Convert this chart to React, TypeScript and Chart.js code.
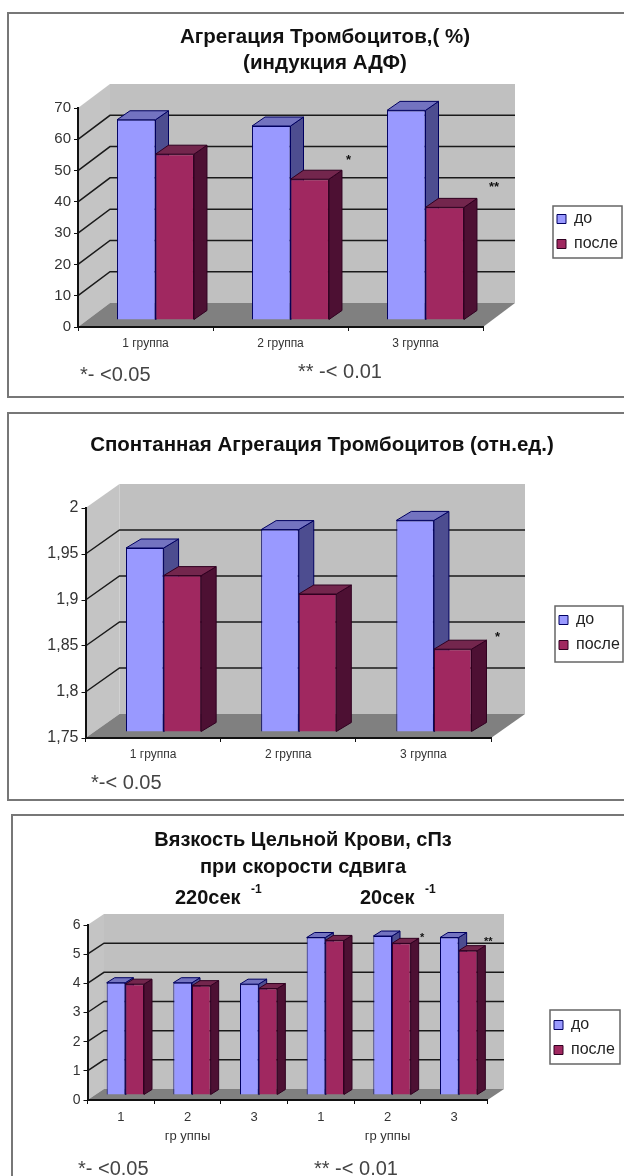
import React, { useEffect, useRef } from "react";
import { Chart, registerables } from "chart.js";

Chart.register(...registerables);

const SERIES_LABELS = ["до", "после"];

const groupsA = ["1 группа", "2 группа", "3 группа"];
const beforeA = [64, 62, 67];
const afterA = [53, 45, 36];

const groupsB = ["1 группа", "2 группа", "3 группа"];
const beforeB = [1.95, 1.97, 1.98];
const afterB = [1.92, 1.9, 1.84];

const groupsC: (string | string[])[] = ["1", ["2", "гр уппы"], "3", "1", ["2", "гр уппы"], "3"];
const beforeC = [3.85, 3.85, 3.8, 5.4, 5.45, 5.4];
const afterC = [3.8, 3.75, 3.65, 5.3, 5.2, 4.95];

const titleA = ["Агрегация Тромбоцитов,( %)", "(индукция АДФ)"];
const titleB = ["Спонтанная Агрегация Тромбоцитов (отн.ед.)"];
const titleC = ["Вязкость Цельной Крови, сПз", "при скорости сдвига"];

const FONT = "'Liberation Sans', Arial, sans-serif";
const NAVY = "#000060";

type Note = { text: string; x: number; y: number; font: string; color?: string };

const panels = [
  {
    top: 0, height: 405, frame: { l: 8, t: 13, r: 630, b: 397 },
    labels: groupsA, before: beforeA, after: afterA, min: 0, max: 70, step: 10,
    area: { l: 78, r: 483, t: 108, b: 327 }, wall: { dx: 32, dy: -24 }, plane: { dx: 10, dy: -7 }, depth: { dx: 13, dy: -9 },
    cat: 0.57, tickSize: 15, xSize: 12, xH: 30,
    title: titleA, titleSize: 20.5, titleLine: 26, titleCx: 325, titleY: 37,
    legend: { x: 553, y: 206, w: 69, h: 52, firstY: 220 },
    notes: [
      { text: "*", x: 346, y: 160, font: "bold 13px " + FONT },
      { text: "**", x: 489, y: 187, font: "bold 13px " + FONT },
      { text: "*- <0.05", x: 80, y: 375, font: "20px " + FONT, color: "#444" },
      { text: "** -< 0.01", x: 298, y: 372, font: "20px " + FONT, color: "#444" },
    ] as Note[],
  },
  {
    top: 405, height: 403, frame: { l: 8, t: 413, r: 630, b: 800 },
    labels: groupsB, before: beforeB, after: afterB, min: 1.75, max: 2, step: 0.05,
    area: { l: 85.5, r: 491, t: 508, b: 738 }, wall: { dx: 34, dy: -24 }, plane: { dx: 10.5, dy: -6 }, depth: { dx: 15, dy: -9 },
    cat: 0.556, tickSize: 16, xSize: 12, xH: 30,
    title: titleB, titleSize: 20.5, titleLine: 26, titleCx: 322, titleY: 445,
    legend: { x: 555, y: 606, w: 68, h: 56, firstY: 621 },
    notes: [
      { text: "*", x: 495, y: 637, font: "bold 13px " + FONT },
      { text: "*-< 0.05", x: 91, y: 783, font: "20px " + FONT, color: "#444" },
    ] as Note[],
  },
  {
    top: 808, height: 368, frame: { l: 12, t: 815, r: 630, b: 1190 },
    labels: groupsC, before: beforeC, after: afterC, min: 0, max: 6, step: 1,
    area: { l: 87.5, r: 487.5, t: 925, b: 1100 }, wall: { dx: 16.5, dy: -11 }, plane: { dx: 4.5, dy: -5 }, depth: { dx: 8, dy: -5 },
    cat: 0.56, tickSize: 14, xSize: 13, xH: 44,
    title: titleC, titleSize: 20, titleLine: 27, titleCx: 303, titleY: 840,
    legend: { x: 550, y: 1010, w: 70, h: 54, firstY: 1026 },
    notes: [
      { text: "220сек", x: 175, y: 898, font: "bold 20px " + FONT },
      { text: "-1", x: 251, y: 890, font: "bold 12px " + FONT },
      { text: "20сек", x: 360, y: 898, font: "bold 20px " + FONT },
      { text: "-1", x: 425, y: 890, font: "bold 12px " + FONT },
      { text: "*", x: 420, y: 938, font: "bold 11px " + FONT },
      { text: "**", x: 484, y: 942, font: "bold 11px " + FONT },
      { text: "*- <0.05", x: 78, y: 1169, font: "20px " + FONT, color: "#444" },
      { text: "** -< 0.01", x: 314, y: 1169, font: "20px " + FONT, color: "#444" },
    ] as Note[],
  },
];

type Panel = (typeof panels)[number];

function face(ctx: CanvasRenderingContext2D, pts: number[][], fill: string, stroke?: string) {
  ctx.beginPath();
  pts.forEach((p, i) => (i ? ctx.lineTo(p[0], p[1]) : ctx.moveTo(p[0], p[1])));
  ctx.closePath();
  ctx.fillStyle = fill;
  ctx.fill();
  if (stroke) {
    ctx.strokeStyle = stroke;
    ctx.lineWidth = 1;
    ctx.stroke();
  }
}

const FACE_COLORS = [
  { top: "#7373c0", side: "#4d4d90", edge: NAVY },
  { top: "#73264d", side: "#4d1033", edge: "#300020" },
];

function panelPlugin(p: Panel) {
  const off = p.top;
  return {
    id: "panel3d",
    afterLayout(chart: any) {
      const t = chart.titleBlock;
      const h = t.height;
      t.left = p.titleCx - 300;
      t.right = p.titleCx + 300;
      t.top = p.titleY - off - p.titleLine / 2;
      t.bottom = t.top + h;
      const lg = chart.legend;
      const pad = lg.options.labels.padding;
      lg.left = p.legend.x - 5;
      lg.right = 624;
      lg.top = p.legend.firstY - off - pad - 9;
      lg.bottom = lg.top + 80;
    },
    beforeDraw(chart: any) {
      const { ctx, chartArea: a, scales } = chart;
      const { dx, dy } = p.wall;
      ctx.save();
      ctx.fillStyle = "#fff";
      ctx.fillRect(0, 0, chart.width, chart.height);
      // chart frame
      ctx.strokeStyle = "#777";
      ctx.lineWidth = 2;
      ctx.strokeRect(p.frame.l, p.frame.t - off, p.frame.r - p.frame.l, p.frame.b - p.frame.t);
      // walls
      face(ctx, [[a.left + dx, a.top + dy], [a.right + dx, a.top + dy], [a.right + dx, a.bottom + dy], [a.left + dx, a.bottom + dy]], "#c0c0c0");
      face(ctx, [[a.left, a.top], [a.left + dx, a.top + dy], [a.left + dx, a.bottom + dy], [a.left, a.bottom]], "#c4c4c4");
      face(ctx, [[a.left, a.bottom], [a.right, a.bottom], [a.right + dx, a.bottom + dy], [a.left + dx, a.bottom + dy]], "#808080");
      // gridlines from the value scale
      ctx.strokeStyle = "#1a1a1a";
      ctx.lineWidth = 1.5;
      scales.y.ticks.forEach((tk: any) => {
        if (tk.value <= p.min + 1e-6 || tk.value >= p.max - 1e-6) return;
        const y = scales.y.getPixelForValue(tk.value);
        ctx.beginPath();
        ctx.moveTo(a.left, y);
        ctx.lineTo(a.left + dx, y + dy);
        ctx.lineTo(a.right + dx, y + dy);
        ctx.stroke();
      });
      ctx.restore();
    },
    beforeDatasetsDraw(chart: any) {
      const { ctx } = chart;
      const { dx: px, dy: py } = p.plane;
      const { dx, dy } = p.depth;
      const metas = [chart.getDatasetMeta(0), chart.getDatasetMeta(1)];
      ctx.save();
      p.labels.forEach((_l, i) => {
        metas.forEach((m, k) => {
          const b = m.data[i].getProps(["x", "y", "base", "width"], true);
          const l = b.x - b.width / 2 + px;
          const r = b.x + b.width / 2 + px;
          const t = b.y + py;
          const base = b.base + py;
          const c = FACE_COLORS[k];
          face(ctx, [[r, t], [r + dx, t + dy], [r + dx, base + dy], [r, base]], c.side, c.edge);
          face(ctx, [[l, t], [l + dx, t + dy], [r + dx, t + dy], [r, t]], c.top, c.edge);
        });
      });
      ctx.restore();
    },
    beforeDatasetDraw(chart: any) {
      chart.ctx.save();
      chart.ctx.translate(p.plane.dx, p.plane.dy);
    },
    afterDatasetDraw(chart: any) {
      chart.ctx.restore();
    },
    afterDraw(chart: any) {
      const { ctx } = chart;
      ctx.save();
      ctx.strokeStyle = "#666";
      ctx.lineWidth = 1.5;
      ctx.strokeRect(p.legend.x, p.legend.y - off, p.legend.w, p.legend.h);
      ctx.textBaseline = "middle";
      ctx.textAlign = "left";
      p.notes.forEach((n) => {
        ctx.font = n.font;
        ctx.fillStyle = n.color || "#111";
        ctx.fillText(n.text, n.x, n.y - off);
      });
      ctx.restore();
    },
  };
}

function ChartPanel({ p }: { p: Panel }) {
  const ref = useRef<HTMLCanvasElement>(null);
  useEffect(() => {
    const titleH = p.title.length * p.titleLine;
    const chart = new Chart(ref.current as HTMLCanvasElement, {
      type: "bar",
      data: {
        labels: p.labels as any,
        datasets: [
          { label: SERIES_LABELS[0], data: p.before, base: p.min, backgroundColor: "#9999ff", borderColor: NAVY, borderWidth: 1, clip: false as any },
          { label: SERIES_LABELS[1], data: p.after, base: p.min, backgroundColor: "#a02860", borderColor: "#300020", borderWidth: 1, clip: false as any },
        ],
      },
      options: {
        animation: false,
        responsive: false,
        devicePixelRatio: 1,
        layout: {
          padding: {
            left: 0,
            right: 624 - p.area.r,
            top: p.area.t - p.top - titleH,
            bottom: p.height - (p.area.b - p.top) - p.xH,
          },
        },
        datasets: { bar: { categoryPercentage: p.cat, barPercentage: 1 } },
        plugins: {
          title: {
            display: true,
            text: p.title,
            color: "#111",
            padding: 0,
            font: { family: FONT, size: p.titleSize, weight: "bold", lineHeight: p.titleLine / p.titleSize },
          },
          legend: {
            display: true,
            position: "chartArea" as any,
            align: "start",
            labels: {
              color: "#222",
              boxWidth: 9,
              boxHeight: 9,
              padding: 9,
              font: { family: FONT, size: 16, lineHeight: 1.15 },
            },
          },
          tooltip: { enabled: false },
        },
        scales: {
          x: {
            afterFit: (s: any) => { s.height = p.xH; },
            grid: { drawOnChartArea: false, drawTicks: true, tickLength: 4, color: "#111", offset: true },
            border: { color: "#111", width: 2 },
            ticks: { color: "#333", font: { family: FONT, size: p.xSize, lineHeight: 1.45 }, padding: 4, autoSkip: false, maxRotation: 0 },
          },
          y: {
            min: p.min,
            max: p.max,
            afterFit: (s: any) => { s.width = p.area.l; },
            grid: { drawOnChartArea: false, drawTicks: true, tickLength: 4, color: "#111" },
            border: { color: "#111", width: 2 },
            ticks: {
              stepSize: p.step,
              color: "#333",
              padding: 3,
              font: { family: FONT, size: p.tickSize },
              callback: (v: any) => String(Number(Number(v).toFixed(2))).replace(".", ","),
            },
          },
        },
      },
      plugins: [panelPlugin(p)],
    } as any);
    return () => chart.destroy();
  }, [p]);
  return (
    <canvas
      ref={ref}
      width={624}
      height={p.height}
      style={{ position: "absolute", left: 0, top: p.top, width: 624, height: p.height, filter: "blur(0.5px)" }}
    />
  );
}

export default function App() {
  return (
    <div style={{ position: "absolute", left: 0, top: 0, width: 624, height: 1176, overflow: "hidden", background: "#fff" }}>
      {panels.map((p, i) => (
        <ChartPanel key={i} p={p} />
      ))}
    </div>
  );
}
